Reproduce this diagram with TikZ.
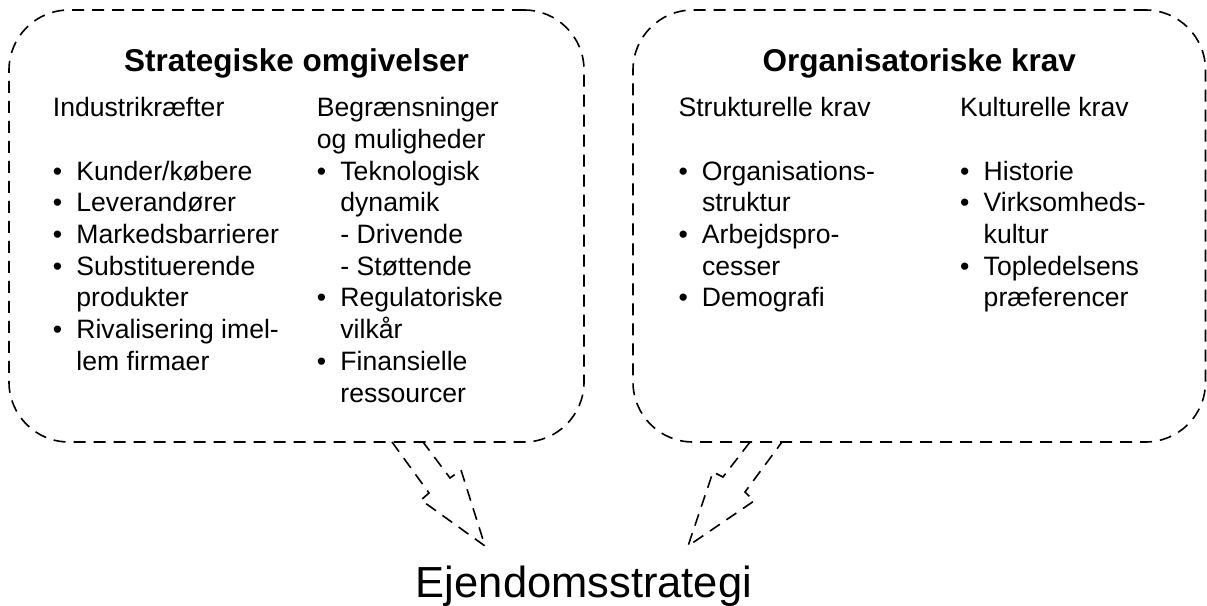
\documentclass[tikz,border=0pt]{standalone}
\usepackage{fontspec}
\setmainfont{Liberation Sans}
\usetikzlibrary{calc}

\newcommand{\itm}{\makebox[23.5pt][l]{\textbullet}}
\newcommand{\ind}{\hspace*{23.5pt}}

\begin{document}
\begin{tikzpicture}[x=1pt,y=-1pt,
dashline/.style={line width=1.6pt, dash pattern=on 12pt off 8pt},
bubble/.style={dashline, draw, rounded corners=60pt, inner sep=0pt},
line/.style={anchor=base west, inner sep=0pt, font=\fontsize{26.6}{31.7}\selectfont},
title/.style={anchor=base, inner sep=0pt, font=\fontsize{31.5}{36}\selectfont\bfseries}]

\useasboundingbox (0,0) rectangle (1207,605);

%bubbles
\node[bubble, minimum width=575pt, minimum height=432pt] (strat) at (296.5,226) {};
\node[bubble, minimum width=572.5pt, minimum height=432pt] (org) at (919.25,226) {};

\node[title] (strattitle) at (296.5,71) {Strategiske omgivelser};
\node[title] (orgtitle) at (919.25,71) {Organisatoriske krav};

%left bubble
\node[line] (ind) at (52.7,116.7) {Industrikræfter};
\foreach \txt [count=\i from 3] in {\itm Kunder/købere, \itm Leverandører,
  \itm Markedsbarrierer, \itm Substituerende, \ind produkter,
  \itm Rivalisering imel-, \ind lem firmaer}
  \node[line] (ind-\i) at (52.7,{116.7+31.7*(\i-1)}) {\txt};

\node[line] (beg) at (316.7,116.7) {Begrænsninger};
\node[line] (beg-2) at (316.7,148.4) {og muligheder};
\foreach \txt [count=\i from 3] in {\itm Teknologisk, \ind dynamik,
  \ind - Drivende, \ind - Støttende, \itm Regulatoriske, \ind vilkår,
  \itm Finansielle, \ind ressourcer}
  \node[line] (beg-\i) at (316.7,{116.7+31.7*(\i-1)}) {\txt};

%right bubble
\node[line] (struk) at (678.3,116.7) {Strukturelle krav};
\foreach \txt [count=\i from 3] in {\itm Organisations-, \ind struktur,
  \itm Arbejdspro-, \ind cesser, \itm Demografi}
  \node[line] (struk-\i) at (678.3,{116.7+31.7*(\i-1)}) {\txt};

\node[line] (kult) at (960,116.7) {Kulturelle krav};
\foreach \txt [count=\i from 3] in {\itm Historie, \itm Virksomheds-,
  \ind kultur, \itm Topledelsens, \ind præferencer}
  \node[line] (kult-\i) at (960,{116.7+31.7*(\i-1)}) {\txt};

%result
\node[anchor=base, inner sep=0pt, font=\fontsize{43.5}{50}\selectfont] (ejd) at (584,597) {Ejendomsstrategi};

%block arrows
\draw[dashline] (392,442) -- (429,493) -- (421,500) -- (485,546)
  -- (461,470) -- (450,478) -- (423,442);
\draw[dashline] (750,442) -- (723,477) -- (713,472) -- (688,546)
  -- (754,501) -- (745,492) -- (782,442);

\end{tikzpicture}
\end{document}
